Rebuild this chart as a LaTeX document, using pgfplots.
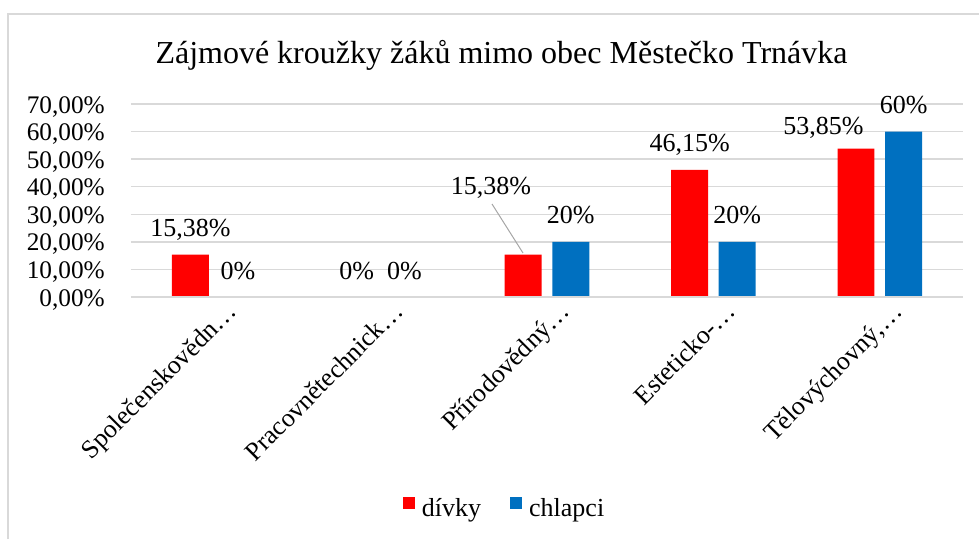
\documentclass[border=0pt]{standalone}
\usepackage{fontspec}
\setmainfont{Liberation Serif}
\usepackage{pgfplots}
\pgfplotsset{compat=1.18}
\definecolor{divky}{HTML}{FF0000}
\definecolor{chlapci}{HTML}{0070C0}
\definecolor{gridc}{HTML}{D9D9D9}
\newcommand{\lblfont}{\fontsize{25.3}{30}\selectfont}
\newcommand{\datfont}{\fontsize{26}{31}\selectfont}
\newcommand{\catfont}{\fontsize{26}{31}\selectfont}
\begin{document}
\begin{tikzpicture}[x=1pt,y=1pt]
\useasboundingbox (-131,-242) rectangle (848,297);
\draw[gridc, line width=1.3pt] (-123,-242) -- (-123,283) -- (848,283);
\node[anchor=base, inner sep=0pt, font=\fontsize{32}{38}\selectfont] at (370.5,234) {Zájmové kroužky žáků mimo obec Městečko Trnávka};
\begin{axis}[
  at={(0,0)}, anchor=south west,
  scale only axis, width=832pt, height=193pt,
  xmin=-0.5, xmax=4.5, ymin=0, ymax=70,
  clip=false,
  axis line style={draw=none},
  major tick length=0pt,
  ymajorgrids, grid style={gridc, line width=1.3pt},
  ytick={0,10,...,70},
  yticklabels={{0,00\%},{10,00\%},{20,00\%},{30,00\%},{40,00\%},{50,00\%},{60,00\%},{70,00\%}},
  yticklabel style={anchor=base east, inner sep=0pt, xshift=-26pt, yshift=-9pt, font=\lblfont},
  xtick={0,1,2,3,4},
  xticklabels={{Společenskovědn…},{Pracovnětechnick…},{Přírodovědný…},{Esteticko-…},{Tělovýchovný,…}},
  xticklabel style={inner sep=0pt, xshift=24pt, yshift=-16pt, rotate=45, anchor=base east, font=\catfont},
  point meta=explicit symbolic,
  nodes near coords,
  every node near coord/.append style={anchor=base, yshift=18pt, inner sep=0pt, font=\datfont, text=black},
  legend columns=2,
  legend style={at={(0.449,-1.093)}, anchor=center, draw=none, fill=none, font=\datfont,
    /tikz/every even column/.append style={column sep=27pt}},
  legend cell align=left,
  legend image code/.code={\fill[#1] (0pt,-1pt) rectangle (12pt,11pt); \path (17pt,0pt);},
]
\addplot[ybar, bar shift=-0.143, bar width=0.222, fill=divky, draw=none,
  every node near coord/.append style={xshift=-23.8pt}]
  coordinates {(0,15.38) [15,38\%] (1,0) [0\%] (2,15.38) [] (3,46.15) [46,15\%] (4,53.85) []};
\addlegendentry{dívky}
\addplot[ybar, bar shift=0.143, bar width=0.222, fill=chlapci, draw=none,
  every node near coord/.append style={xshift=23.8pt}]
  coordinates {(0,0) [0\%] (1,0) [0\%] (2,20) [20\%] (3,20) [20\%] (4,60) [60\%]};
\addlegendentry{chlapci}
\draw[gridc, line width=1.3pt] (axis cs:-0.5,0) -- (axis cs:4.5,0);
\node[anchor=base, inner sep=0pt, font=\datfont] at (axis cs:1.6635,37.0) {15,38\%};
\draw[black!35, line width=1pt] (axis cs:1.6695,33.73) -- (axis cs:1.8558,15.96);
\node[anchor=base, inner sep=0pt, font=\datfont] at (axis cs:3.6617,59.12) {53,85\%};
\end{axis}
\end{tikzpicture}
\end{document}
